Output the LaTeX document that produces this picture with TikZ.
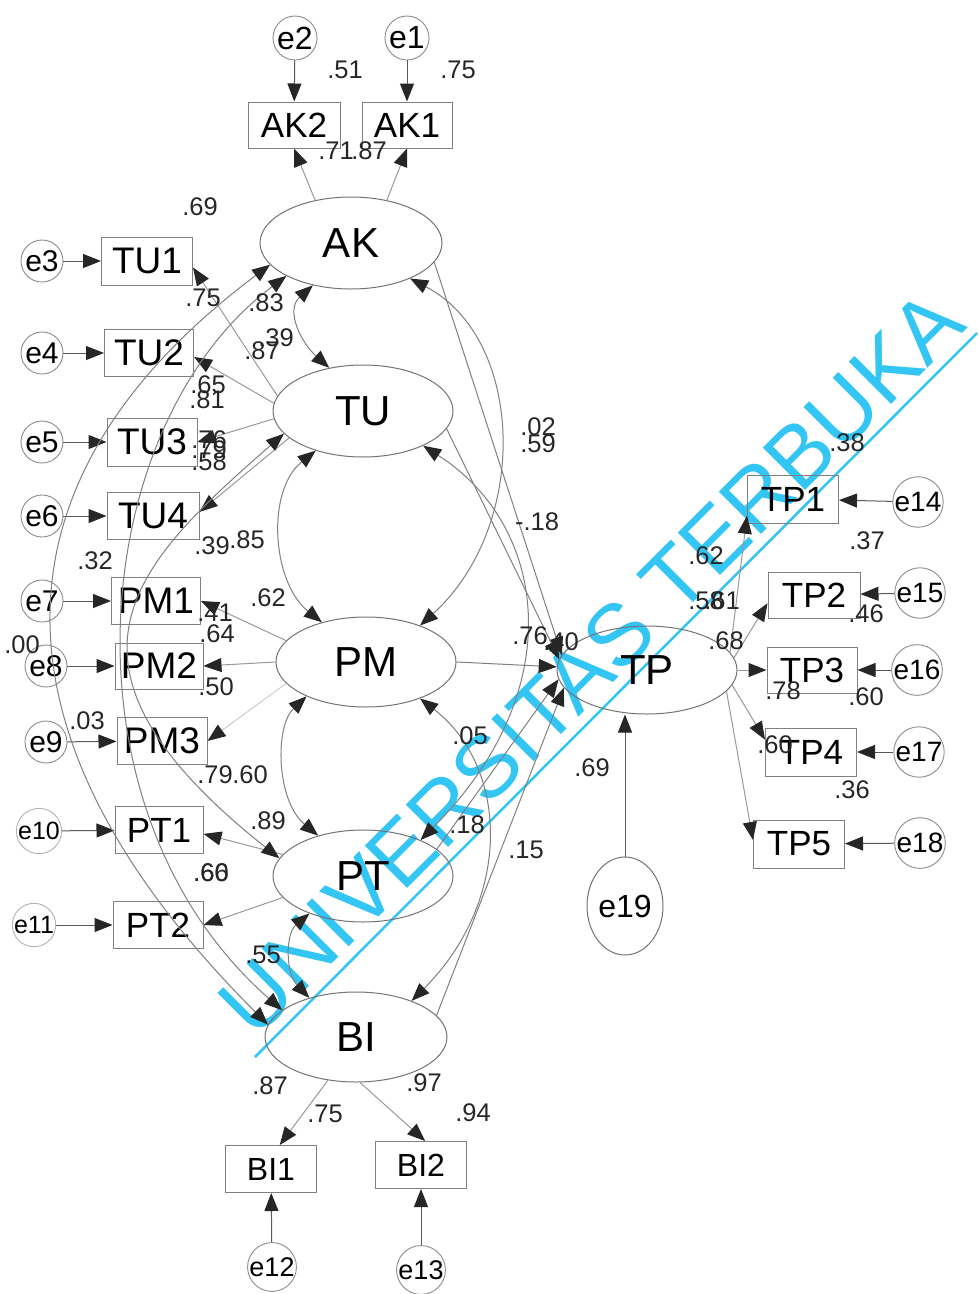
\documentclass[tikz,border=0pt]{standalone}
\usepackage{fontspec}
\setmainfont{Liberation Sans}
\usetikzlibrary{arrows.meta,shapes.geometric,calc}
\definecolor{wm}{RGB}{51,197,243}
\begin{document}
\begin{tikzpicture}[x=1pt,y=-1pt,
  lat/.style={ellipse,draw=black!55,line width=1pt,inner sep=0pt,font=\fontsize{42}{42}\selectfont},
  obs/.style={rectangle,draw=black!50,line width=1pt,inner sep=0pt,font=\fontsize{35}{35}\selectfont},
  err/.style={circle,draw=black!45,line width=0.9pt,inner sep=0pt,minimum size=44pt,font=\fontsize{30}{30}\selectfont},
  est/.style={font=\fontsize{25.5}{25.5}\selectfont,inner sep=0pt,text=black!85},
  tip/.style={-{Triangle[length=18pt,width=14pt,color=black!85]}},
  errline/.style={tip,draw=black!65,line width=1pt},
  load/.style={tip,draw=black!40,line width=1pt},
  path/.style={tip,draw=black!50,line width=1pt},
  cov/.style={draw=black!50,line width=1pt,{Triangle[length=18pt,width=14pt,color=black!85]}-{Triangle[length=18pt,width=14pt,color=black!85]}},
]
\useasboundingbox (0,0) rectangle (978,1294);
\fill[white] (0,0) rectangle (978,1294);

% watermark
\node[rotate=45,anchor=base west,inner sep=0pt,text=wm,font=\fontsize{87}{87}\selectfont] (wmtext) at (255,1041) {UNIVERSITAS TERBUKA};
\coordinate (wmA) at (255,1057);
\coordinate (wmB) at (977,333);
\draw[wm,line width=2.5pt] (wmA) -- (wmB);

% latent variables
\node[lat,minimum width=182pt,minimum height=92pt] (AK) at (351,243) {AK};
\node[lat,minimum width=180pt,minimum height=92pt] (TU) at (363,411) {TU};
\node[lat,minimum width=180pt,minimum height=90pt] (PM) at (366,662) {PM};
\node[lat,minimum width=180pt,minimum height=92pt] (PT) at (363,876) {PT};
\node[lat,minimum width=182pt,minimum height=90pt] (BI) at (356,1037) {BI};
\node[lat,minimum width=180pt,minimum height=88pt] (TP) at (647,670) {TP};
\node[lat,minimum width=76pt,minimum height=98pt,font=\fontsize{32}{32}\selectfont] (e19) at (625,906) {e19};

% observed indicators
\node[obs,minimum width=92pt,minimum height=46pt] (AK2) at (294,125) {AK2};
\node[obs,minimum width=90pt,minimum height=46pt] (AK1) at (407,125) {AK1};
\node[obs,minimum width=91pt,minimum height=48pt,font=\fontsize{37}{37}\selectfont] (TU1) at (147,261) {TU1};
\node[obs,minimum width=89pt,minimum height=47pt,font=\fontsize{37}{37}\selectfont] (TU2) at (149,353) {TU2};
\node[obs,minimum width=90pt,minimum height=48pt,font=\fontsize{37}{37}\selectfont] (TU3) at (152,442) {TU3};
\node[obs,minimum width=92pt,minimum height=47pt,font=\fontsize{37}{37}\selectfont] (TU4) at (153,516) {TU4};
\node[obs,minimum width=89pt,minimum height=47pt,font=\fontsize{37}{37}\selectfont] (PM1) at (156,601) {PM1};
\node[obs,minimum width=88pt,minimum height=46pt,font=\fontsize{37}{37}\selectfont] (PM2) at (159,666) {PM2};
\node[obs,minimum width=90pt,minimum height=47pt,font=\fontsize{37}{37}\selectfont] (PM3) at (162,741) {PM3};
\node[obs,minimum width=88pt,minimum height=47pt] (PT1) at (159,830) {PT1};
\node[obs,minimum width=90pt,minimum height=47pt] (PT2) at (158,925) {PT2};
\node[obs,minimum width=91pt,minimum height=47pt,font=\fontsize{32}{32}\selectfont] (BI1) at (271,1169) {BI1};
\node[obs,minimum width=91pt,minimum height=47pt,font=\fontsize{32}{32}\selectfont] (BI2) at (421,1165) {BI2};
\node[obs,minimum width=91pt,minimum height=48pt] (TP1) at (793,499) {TP1};
\node[obs,minimum width=92pt,minimum height=46pt] (TP2) at (814,595) {TP2};
\node[obs,minimum width=90pt,minimum height=46pt] (TP3) at (812,670) {TP3};
\node[obs,minimum width=91pt,minimum height=48pt] (TP4) at (811,752) {TP4};
\node[obs,minimum width=91pt,minimum height=48pt] (TP5) at (799,844) {TP5};

% error terms
\node[err,font=\fontsize{32}{32}\selectfont] (e2) at (295,38) {e2};
\node[err,font=\fontsize{32}{32}\selectfont] (e1) at (407,38) {e1};
\node[err,minimum size=42pt] (e3) at (42,261) {e3};
\node[err,minimum size=42pt] (e4) at (42,353) {e4};
\node[err,minimum size=42pt] (e5) at (42,442) {e5};
\node[err,minimum size=42pt] (e6) at (42,516) {e6};
\node[err,minimum size=42pt] (e7) at (42,601) {e7};
\node[err,minimum size=42pt] (e8) at (46,666) {e8};
\node[err,minimum size=42pt] (e9) at (46,742) {e9};
\node[err,minimum size=42pt,draw=black!30,font=\fontsize{25}{25}\selectfont] (e10) at (39,831) {e10};
\node[err,minimum size=42pt,draw=black!30,font=\fontsize{25}{25}\selectfont] (e11) at (34,925) {e11};
\node[err,font=\fontsize{27}{27}\selectfont] (e12) at (272,1267) {e12};
\node[err,font=\fontsize{27}{27}\selectfont] (e13) at (421,1270) {e13};
\node[err,font=\fontsize{28}{28}\selectfont] (e14) at (918,502) {e14};
\node[err,font=\fontsize{28}{28}\selectfont] (e15) at (920,593) {e15};
\node[err,font=\fontsize{28}{28}\selectfont] (e16) at (917,670) {e16};
\node[err,font=\fontsize{28}{28}\selectfont] (e17) at (919,752) {e17};
\node[err,font=\fontsize{28}{28}\selectfont] (e18) at (920,843) {e18};

% error paths
\draw[errline] (e2) -- (AK2);
\draw[errline] (e1) -- (AK1);
\draw[errline] (e3) -- (TU1);
\draw[errline] (e4) -- (TU2);
\draw[errline] (e5) -- (TU3);
\draw[errline] (e6) -- (TU4);
\draw[errline] (e7) -- (PM1);
\draw[errline] (e8) -- (PM2);
\draw[errline] (e9) -- (PM3);
\draw[errline] (e10) -- (PT1);
\draw[errline] (e11) -- (PT2);
\draw[errline] (e12) -- (BI1);
\draw[errline] (e13) -- (BI2);
\draw[errline] (e14) -- (TP1);
\draw[errline] (e15) -- (TP2);
\draw[errline] (e16) -- (TP3);
\draw[errline] (e17) -- (TP4);
\draw[errline] (e18) -- (TP5);
\draw[errline] (e19.north) -- (e19.north |- TP.south);

% loadings
\draw[load] (AK.130) -- (AK2.south);
\draw[load] (AK.50) -- (AK1.south);
\draw[load] (TU.170) -- (TU1.-8);
\draw[load] (TU.175) -- (TU2.-5);
\draw[load] (TU.185) -- (TU3.east);
\draw[load] (TU.200) -- (TU4.5);
\draw[load] (PM.165) -- (PM1.east);
\draw[load] (PM.180) -- (PM2.east);
\draw[load,draw=black!20] (PM.195) -- (PM3.east);
\draw[load] (PT.165) -- (PT1.-5);
\draw[load] (PT.195) -- (PT2.east);
\draw[load] (BI.237) -- (BI1.70);
\draw[load] (BI.275) -- (BI2.80);
\draw[load] (TP.12) -- (TP1.200);
\draw[load] (TP.8) -- (TP2.190);
\draw[load] (TP.0) -- (TP3.west);
\draw[load] (TP.-10) -- (TP4.165);
\draw[load] (TP.-15) -- (TP5.175);

% structural paths
\draw[path] (AK.-13) -- (TP.170);
\draw[path] (TU.-12) -- (TP.173);
\draw[path] (PM.0) -- (TP.178);
\draw[path] (PT.20) -- (TP.186);
\draw[path] (BI.15) -- (TP.192);

% covariances
\draw[cov] (AK.195) .. controls +(-300,225) and +(-275,-275) .. (BI.172);
\draw[cov] (AK.207) .. controls +(-200,150) and +(-228,-200) .. (BI.160);
\draw[cov] (TU.196) .. controls +(-150,131) and +(-246,-195) .. (PT.168);
\draw[cov] (AK.228) .. controls +(-28,25) and +(-28,-25) .. (TU.128);
\draw[cov] (TU.220) .. controls +(-50,40) and +(-50,-40) .. (PM.138);
\draw[cov] (PM.210) .. controls +(-32,30) and +(-42,-35) .. (PT.138);
\draw[cov] (PT.215) .. controls +(-24,20) and +(-24,-25) .. (BI.140);
\draw[cov] (AK.-31) .. controls +(115,60) and +(110,-100) .. (PM.34);
\draw[cov] (TU.-30) .. controls +(125,80) and +(150,-150) .. (PT.32);
\draw[cov] (PM.-34) .. controls +(90,70) and +(100,-100) .. (BI.33);

% estimates
\node[est] (n1) at (345,70) {.51};
\node[est] (n2) at (458,70) {.75};
\node[est] (n3) at (336,151) {.71};
\node[est] (n4) at (369,151) {.87};
\node[est] (n5) at (200,207) {.69};
\node[est] (n6) at (203,298) {.75};
\node[est] (n7) at (266,303) {.83};
\node[est] (n8) at (276,338) {.39};
\node[est] (n9) at (262,351) {.87};
\node[est] (n10) at (208,385) {.65};
\node[est] (n11) at (207,400) {.81};
\node[est] (n12) at (209,440) {.76};
\node[est] (n13) at (209,450) {.79};
\node[est] (n14) at (209,462) {.58};
\node[est] (n15) at (212,546) {.39};
\node[est] (n16) at (247,540) {.85};
\node[est] (n17) at (95,561) {.32};
\node[est] (n18) at (268,598) {.62};
\node[est] (n19) at (215,613) {.41};
\node[est] (n20) at (217,634) {.64};
\node[est] (n21) at (22,645) {.00};
\node[est] (n22) at (216,687) {.50};
\node[est] (n23) at (87,721) {.03};
\node[est] (n24) at (215,775) {.79};
\node[est] (n25) at (250,775) {.60};
\node[est] (n26) at (268,821) {.89};
\node[est] (n27) at (211,873) {.66};
\node[est] (n28) at (211,873) {.60};
\node[est] (n29) at (263,955) {.55};
\node[est] (n30) at (270,1086) {.87};
\node[est] (n31) at (325,1114) {.75};
\node[est] (n32) at (424,1083) {.97};
\node[est] (n33) at (473,1113) {.94};
\node[est] (n34) at (538,427) {.02};
\node[est] (n35) at (538,444) {.59};
\node[est] (n36) at (537,522) {-.18};
\node[est] (n37) at (530,636) {.76};
\node[est] (n38) at (561,642) {.40};
\node[est] (n39) at (470,736) {.05};
\node[est] (n40) at (467,825) {.18};
\node[est] (n41) at (526,850) {.15};
\node[est] (n42) at (592,768) {.69};
\node[est] (n43) at (847,443) {.38};
\node[est] (n44) at (867,541) {.37};
\node[est] (n45) at (706,556) {.62};
\node[est] (n46) at (706,601) {.58};
\node[est] (n47) at (722,601) {.61};
\node[est] (n48) at (726,641) {.68};
\node[est] (n49) at (866,614) {.46};
\node[est] (n50) at (783,691) {.78};
\node[est] (n51) at (866,697) {.60};
\node[est] (n52) at (775,745) {.60};
\node[est] (n53) at (852,790) {.36};
\end{tikzpicture}
\end{document}
